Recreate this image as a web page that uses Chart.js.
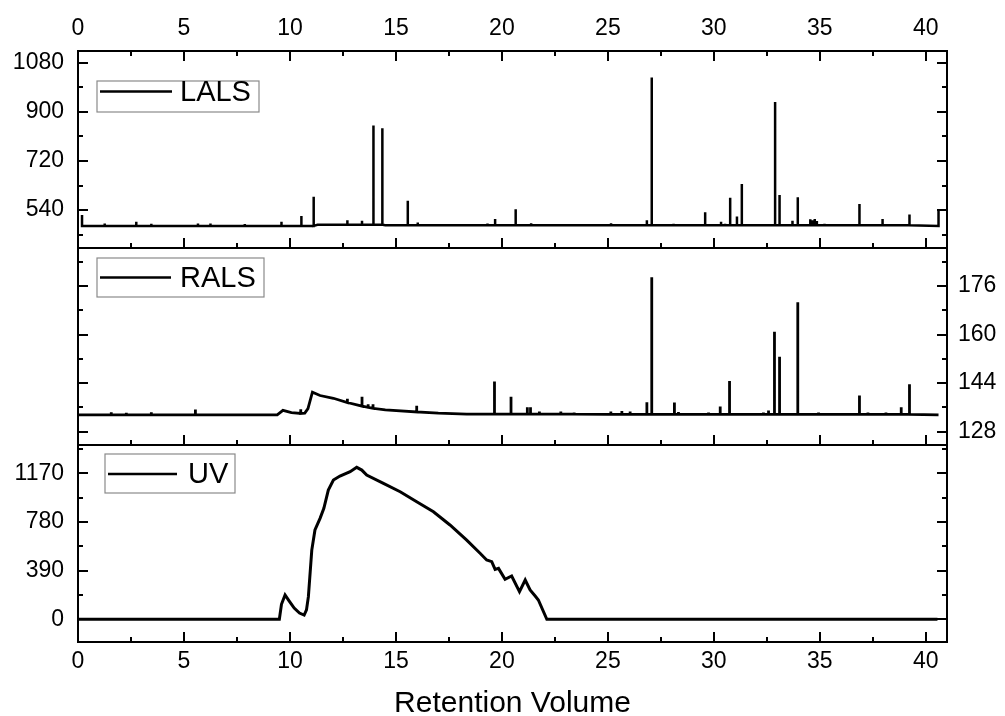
<!DOCTYPE html>
<html>
<head>
<meta charset="utf-8">
<title>LALS / RALS / UV</title>
<script src="https://cdn.jsdelivr.net/npm/chart.js@4/dist/chart.umd.min.js"></script>
<style>
  html, body { margin: 0; padding: 0; background: #fff; }
  #wrap { position: relative; width: 1005px; height: 716px; }
  #wrap canvas { position: absolute; left: 0; top: 0; }
</style>
</head>
<body>
<div id="wrap">
  <canvas id="lals" width="1005" height="716"></canvas>
  <canvas id="rals" width="1005" height="716"></canvas>
  <canvas id="uv" width="1005" height="716"></canvas>
</div>
<script>
// shared x range (retention volume)
const xMin = 0, xMax = 41, xStep = 5;
const xTicks = [0, 5, 10, 15, 20, 25, 30, 35, 40];
const xTitle = 'Retention Volume';

// LALS: baseline points + spikes
const lalsBaseX = [0.15, 10.9, 11.3, 14.5, 40.6, 40.6];
const lalsBaseY = [482, 482, 486, 484, 482, 537];
const lalsSpikeX = [0.19, 1.26, 2.75, 3.46, 5.66, 6.25, 7.87, 9.6, 10.54, 11.12, 11.4, 12.71, 13.4, 13.69,
  13.94, 14.36, 15.56, 16.03, 17.21, 18.97, 19.32, 19.68, 20.65, 21.38, 23.38, 24.08, 25.15, 26.05, 26.84,
  27.07, 28.1, 29.59, 30.34, 30.53, 30.77, 31.09, 31.32, 32.19, 32.89, 33.1, 33.71, 33.96, 34.55, 34.65,
  34.76, 34.86, 35.22, 36.35, 36.87, 37.96, 38.95, 39.23];
const lalsSpikeY = [522, 491, 497, 490, 491, 491, 489, 497, 518, 589, 488, 503, 501, 490,
  850, 840, 574, 494, 488, 488, 491, 507, 543, 492, 488, 488, 492, 488, 503,
  1026, 490, 532, 497, 490, 585, 516, 636, 486, 936, 595, 501, 587, 506, 503,
  507, 500, 490, 488, 562, 507, 488, 524];
const lalsMin = 401, lalsMax = 1123, lalsStep = 180;
const lalsTicks = [540, 720, 900, 1080];

// RALS: baseline (with the hump near 10-18) + spikes
const ralsBaseX = [0, 9.4, 9.67, 10.07, 10.51, 10.7, 10.85, 11.06, 11.42, 12.05, 12.71, 13.4, 13.69, 13.92, 14.5, 15.98, 17.0, 18.34, 25.0, 40.6];
const ralsBaseY = [133.5, 133.5, 135.0, 134.3, 134.0, 134.1, 135.6, 141.0, 139.9, 139.0, 137.6, 136.4, 136.0, 135.7, 135.2, 134.5, 134.1, 133.8, 133.7, 133.5];
const ralsSpikeX = [1.57, 2.28, 3.46, 5.54, 10.51, 12.71, 13.4, 13.69, 13.92, 15.98, 19.65, 20.43, 21.2, 21.35,
  21.77, 22.78, 23.41, 25.14, 25.66, 26.05, 26.84, 27.07, 28.14, 28.33, 29.75, 30.3, 30.74, 32.34, 32.58,
  32.86, 33.1, 33.96, 34.94, 36.87, 37.27, 37.69, 38.12, 38.84, 39.23];
const ralsSpikeY = [134.4, 134.2, 134.4, 135.3, 135.4, 138.8, 139.5, 137.0, 137.0, 136.5, 144.5, 139.5, 136.0, 136.0,
  134.6, 134.6, 134.3, 134.6, 134.8, 134.6, 137.7, 178.9, 137.6, 134.5, 134.3, 136.3, 144.7, 134.3, 135.0,
  160.9, 152.7, 170.6, 134.3, 139.9, 134.3, 134.0, 134.3, 136.0, 143.6];
const ralsMin = 123.6, ralsMax = 188.5, ralsStep = 16;
const ralsTicks = [128, 144, 160, 176];

// UV trace
const uvX = [0, 9.5, 9.6, 9.77, 9.95, 10.2, 10.45, 10.67, 10.78, 10.87, 11.03, 11.18, 11.42, 11.6, 11.81, 12.05,
  12.36, 12.84, 13.15, 13.39, 13.62, 14.41, 15.2, 15.98, 16.77, 17.55, 18.34, 18.97, 19.28, 19.52, 19.68,
  19.84, 20.15, 20.46, 20.83, 21.1, 21.33, 21.57, 21.72, 22.12, 40.55];
const uvY = [0, 0, 120, 195, 150, 90, 50, 34, 75, 181, 555, 716, 809, 890, 1036, 1116,
  1148, 1183, 1218, 1196, 1156, 1090, 1022, 942, 862, 756, 635, 529, 475, 462, 400,
  408, 320, 347, 221, 315, 235, 187, 155, 0, 0];
const uvMin = -182, uvMax = 1397, uvStep = 390;
const uvTicks = [0, 390, 780, 1170];

Chart.defaults.font.family = '"Liberation Sans", Arial, sans-serif';
Chart.defaults.color = '#000';

// put the spikes onto the baseline: each spike rises from the last baseline value
function withSpikes(bx, by, sx, sy) {
  const pts = [];
  let j = 0;
  for (let i = 0; i < bx.length; i++) {
    while (j < sx.length && sx[j] < bx[i]) {
      const base = pts.length ? pts[pts.length - 1].y : by[i];
      pts.push({x: sx[j], y: base}, {x: sx[j], y: sy[j]}, {x: sx[j], y: base});
      j++;
    }
    pts.push({x: bx[i], y: by[i]});
  }
  return pts;
}

// frame around the plot with inward major/minor ticks
const frameTicks = {
  id: 'frameTicks',
  afterDraw(chart, args, o) {
    const ctx = chart.ctx, a = chart.chartArea;
    const xs = chart.scales.x, ys = chart.scales.y;
    ctx.save();
    ctx.strokeStyle = '#000';
    ctx.lineWidth = 2;
    ctx.strokeRect(a.left, a.top, a.right - a.left, a.bottom - a.top);
    ctx.beginPath();
    const isMajor = (v, s) => Math.abs(v / s - Math.round(v / s)) < 1e-6;
    const xm = o.xStep / 2;
    for (let v = Math.ceil(xs.min / xm) * xm; v <= xs.max + 1e-9; v += xm) {
      const px = Math.round(xs.getPixelForValue(v));
      const len = isMajor(v, o.xStep) ? 10 : 5;
      o.xEdges.forEach(edge => {
        const y0 = edge === 'top' ? a.top : a.bottom;
        const dir = edge === 'top' ? 1 : -1;
        ctx.moveTo(px, y0);
        ctx.lineTo(px, y0 + dir * len);
      });
    }
    const ym = o.yStep / 2;
    for (let v = Math.ceil(ys.min / ym) * ym; v <= ys.max + 1e-9; v += ym) {
      const py = Math.round(ys.getPixelForValue(v));
      const len = isMajor(v, o.yStep) ? 10 : 5;
      ctx.moveTo(a.left, py); ctx.lineTo(a.left + len, py);
      ctx.moveTo(a.right, py); ctx.lineTo(a.right - len, py);
    }
    ctx.stroke();
    ctx.restore();
  }
};

// boxed legend inside the plot, like the original
const boxLegend = {
  id: 'boxLegend',
  afterDatasetsDraw(chart, args, o) {
    const ctx = chart.ctx, a = chart.chartArea;
    const ds = chart.data.datasets[0];
    const x = a.left + o.left, y = a.top + o.top;
    ctx.save();
    ctx.fillStyle = '#fff';
    ctx.fillRect(x, y, o.width, o.height);
    ctx.strokeStyle = '#8a8a8a';
    ctx.lineWidth = 1.2;
    ctx.strokeRect(x, y, o.width, o.height);
    ctx.strokeStyle = '#000';
    ctx.lineWidth = 2.5;
    ctx.beginPath();
    ctx.moveTo(a.left + o.lineX1, a.top + o.midY);
    ctx.lineTo(a.left + o.lineX2, a.top + o.midY);
    ctx.stroke();
    ctx.fillStyle = '#000';
    ctx.font = '29px "Liberation Sans", Arial, sans-serif';
    ctx.textBaseline = 'middle';
    ctx.fillText(ds.label, a.left + o.textX, a.top + o.midY + 1);
    ctx.restore();
  }
};

const plain = v => String(v);
const tickFont = {size: 23};
const fixTicks = list => s => { s.ticks = list.map(v => ({value: v})); };

function lineSet(label, data, width) {
  return {
    label: label,
    data: data,
    borderColor: '#000',
    borderWidth: width,
    pointRadius: 0,
    fill: false,
    tension: 0
  };
}

function baseOptions(padding) {
  return {
    responsive: false,
    animation: false,
    events: [],
    layout: {padding: padding},
    plugins: {legend: {display: false}, tooltip: {enabled: false}}
  };
}

// top panel: LALS
const opt1 = baseOptions({left: 0, top: 0, right: 58, bottom: 468});
opt1.scales = {
  x: {
    type: 'linear', position: 'top', min: xMin, max: xMax,
    grid: {display: false, drawTicks: false}, border: {display: false},
    ticks: {padding: 9, font: tickFont, maxRotation: 0, autoSkip: false, callback: plain},
    afterBuildTicks: fixTicks(xTicks),
    afterFit: s => { s.height = 51; }
  },
  y: {
    position: 'left', min: lalsMin, max: lalsMax,
    grid: {display: false, drawTicks: false}, border: {display: false},
    ticks: {padding: 14, font: tickFont, autoSkip: false, callback: plain},
    afterBuildTicks: fixTicks(lalsTicks),
    afterFit: s => { s.width = 78; }
  }
};
opt1.plugins.frameTicks = {xStep: xStep, yStep: lalsStep, xEdges: ['top', 'bottom']};
opt1.plugins.boxLegend = {left: 19, top: 30, width: 162, height: 31, lineX1: 22, lineX2: 94, textX: 102, midY: 40.5};

new Chart(document.getElementById('lals'), {
  type: 'line',
  data: {datasets: [lineSet('LALS', withSpikes(lalsBaseX, lalsBaseY, lalsSpikeX, lalsSpikeY), 2.5)]},
  options: opt1,
  plugins: [frameTicks, boxLegend]
});

// middle panel: RALS, labels on the right
const opt2 = baseOptions({left: 78, top: 248, right: 0, bottom: 271});
opt2.scales = {
  x: {type: 'linear', display: false, min: xMin, max: xMax},
  y: {
    position: 'right', min: ralsMin, max: ralsMax,
    grid: {display: false, drawTicks: false}, border: {display: false},
    ticks: {padding: 11, font: tickFont, autoSkip: false, callback: plain},
    afterBuildTicks: fixTicks(ralsTicks),
    afterFit: s => { s.width = 58; }
  }
};
opt2.plugins.frameTicks = {xStep: xStep, yStep: ralsStep, xEdges: ['bottom']};
opt2.plugins.boxLegend = {left: 19, top: 10, width: 167, height: 39, lineX1: 22, lineX2: 93, textX: 102, midY: 29.5};

new Chart(document.getElementById('rals'), {
  type: 'line',
  data: {datasets: [lineSet('RALS', withSpikes(ralsBaseX, ralsBaseY, ralsSpikeX, ralsSpikeY), 2.8)]},
  options: opt2,
  plugins: [frameTicks, boxLegend]
});

// bottom panel: UV with the shared x axis title
const opt3 = baseOptions({left: 0, top: 445, right: 58, bottom: 0});
opt3.scales = {
  x: {
    type: 'linear', position: 'bottom', min: xMin, max: xMax,
    grid: {display: false, drawTicks: false}, border: {display: false},
    ticks: {padding: 6, font: tickFont, maxRotation: 0, autoSkip: false, callback: plain},
    afterBuildTicks: fixTicks(xTicks),
    title: {display: true, text: xTitle, font: {size: 30, lineHeight: 0.8}, padding: {top: 0, bottom: 0}},
    afterFit: s => { s.height = 74; }
  },
  y: {
    position: 'left', min: uvMin, max: uvMax,
    grid: {display: false, drawTicks: false}, border: {display: false},
    ticks: {padding: 14, font: tickFont, autoSkip: false, callback: plain},
    afterBuildTicks: fixTicks(uvTicks),
    afterFit: s => { s.width = 78; }
  }
};
opt3.plugins.frameTicks = {xStep: xStep, yStep: uvStep, xEdges: ['bottom']};
opt3.plugins.boxLegend = {left: 27, top: 9, width: 130, height: 39, lineX1: 30, lineX2: 99, textX: 110, midY: 29};

new Chart(document.getElementById('uv'), {
  type: 'line',
  data: {datasets: [lineSet('UV', uvX.map((x, i) => ({x: x, y: uvY[i]})), 3)]},
  options: opt3,
  plugins: [frameTicks, boxLegend]
});
</script>
</body>
</html>
